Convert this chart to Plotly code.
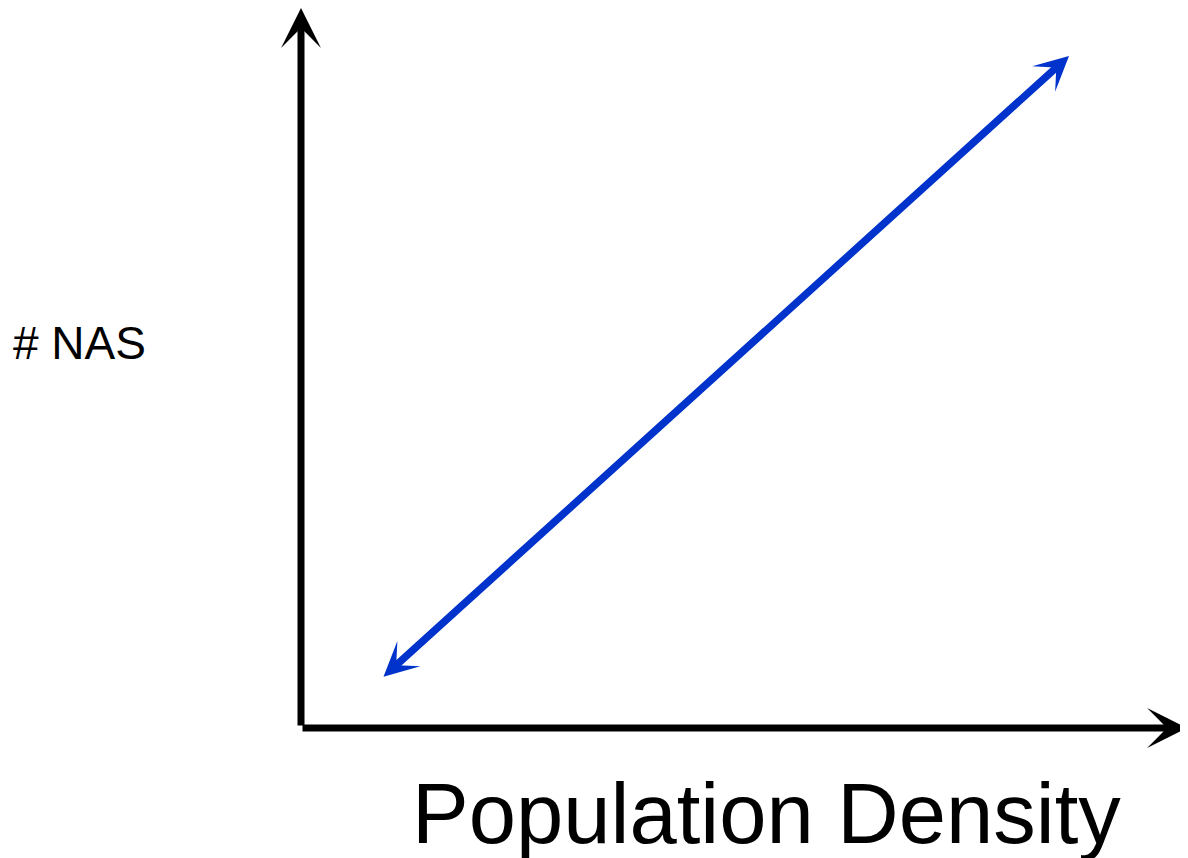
import plotly.graph_objects as go

# Conceptual schematic coordinates (origin at the axes corner)
x_axis_x = [0, 886]
x_axis_y = [0, 0]
y_axis_x = [0, 0]
y_axis_y = [1, 720]
trend_x = [81, 768]
trend_y = [50, 672]
x_label = "Population Density"
y_label = "# NAS"

fig = go.Figure()
# invisible trace to establish axes
fig.add_trace(go.Scatter(x=trend_x, y=trend_y, mode="lines",
                         line=dict(color="rgba(0,0,0,0)"), hoverinfo="skip",
                         showlegend=False))

axis_color = "#000000"
trend_color = "#0033cc"

# x axis arrow
fig.add_annotation(x=x_axis_x[1], y=x_axis_y[1], ax=x_axis_x[0], ay=x_axis_y[0],
                   xref="x", yref="y", axref="x", ayref="y", text="",
                   showarrow=True, arrowhead=3, arrowsize=0.95, arrowwidth=7,
                   arrowcolor=axis_color, standoff=0)
# y axis arrow
fig.add_annotation(x=y_axis_x[1], y=y_axis_y[1], ax=y_axis_x[0], ay=y_axis_y[0],
                   xref="x", yref="y", axref="x", ayref="y", text="",
                   showarrow=True, arrowhead=3, arrowsize=0.95, arrowwidth=7,
                   arrowcolor=axis_color, standoff=0)
# trend double-headed arrow
fig.add_annotation(x=trend_x[1], y=trend_y[1], ax=trend_x[0], ay=trend_y[0],
                   xref="x", yref="y", axref="x", ayref="y", text="",
                   showarrow=True, arrowhead=3, arrowsize=0.76, arrowwidth=7.5,
                   startarrowhead=3, startarrowsize=0.76, arrowside="end+start",
                   arrowcolor=trend_color, standoff=0, startstandoff=0)

fig.add_annotation(x=109, y=-85, xref="x", yref="y", text=x_label,
                   showarrow=False, xanchor="left", yanchor="middle",
                   font=dict(family="Liberation Sans, Arial", size=85, color="#000000"))
fig.add_annotation(x=-290, y=385, xref="x", yref="y", text=y_label,
                   showarrow=False, xanchor="left", yanchor="middle",
                   font=dict(family="Liberation Sans, Arial", size=46, color="#000000"))

# page has an 8px body margin, so the figure is 8px smaller and offset
fig.update_xaxes(range=[-293, 887], visible=False, fixedrange=True)
fig.update_yaxes(range=[-130, 720], visible=False, fixedrange=True)
fig.update_layout(width=1180, height=850, margin=dict(l=0, r=0, t=0, b=0),
                  paper_bgcolor="white", plot_bgcolor="white", showlegend=False)

fig.write_html("out.html")
